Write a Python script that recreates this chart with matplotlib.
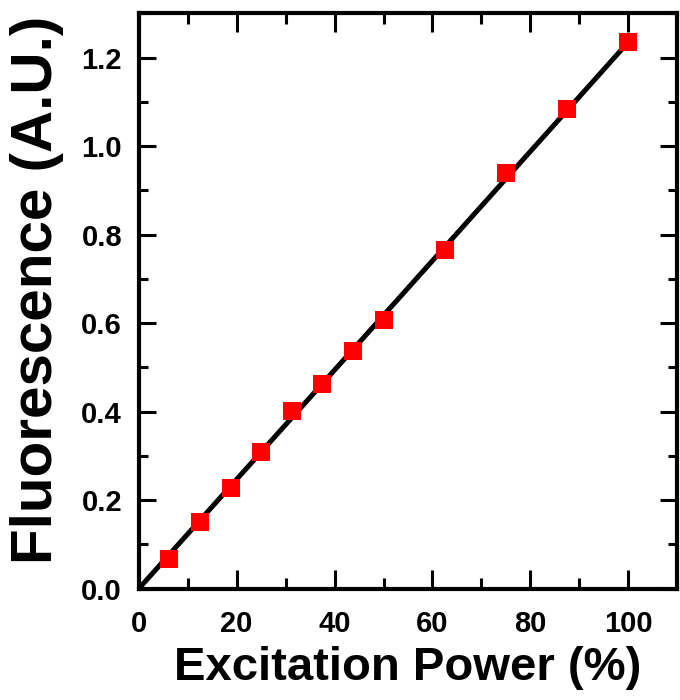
"""
Fluorescence vs excitation power, with linear fit.
"""

import matplotlib
matplotlib.use("Agg")
import matplotlib.pyplot as plt
import matplotlib.ticker as mticker

# measured points
power_pct = [6.25, 12.5, 18.75, 25, 31.25, 37.5, 43.75, 50, 62.5, 75, 87.5, 100]
fluorescence = [0.068, 0.151, 0.228, 0.309, 0.402, 0.463, 0.537, 0.607,
                0.765, 0.939, 1.083, 1.235]

# linear fit line end points
fit_x = [0, 100]
fit_y = [0.0, 1.235]

FONT = ["Liberation Sans", "DejaVu Sans"]
DPI = 100


def main():
    plt.rcParams["font.family"] = FONT
    plt.rcParams["font.weight"] = "bold"

    fig = plt.figure(figsize=(6.8, 7.0), dpi=DPI)
    ax = fig.add_axes([0.204, 0.159, 0.792, 0.822])

    ax.plot(fit_x, fit_y, color="black", linewidth=3.6, zorder=2)
    ax.plot(power_pct, fluorescence, linestyle="none", marker="s",
            markersize=13.5, color="#FF0000", markeredgewidth=0, zorder=3)

    ax.set_xlim(0, 110)
    ax.set_ylim(0, 1.3)
    ax.xaxis.set_major_locator(mticker.MultipleLocator(20))
    ax.xaxis.set_minor_locator(mticker.MultipleLocator(10))
    ax.yaxis.set_major_locator(mticker.MultipleLocator(0.2))
    ax.yaxis.set_minor_locator(mticker.MultipleLocator(0.1))
    ax.yaxis.set_major_formatter(mticker.FormatStrFormatter("%.1f"))

    ax.tick_params(which="both", direction="in", top=True, right=True,
                   width=2.2, labelsize=21)
    ax.tick_params(axis="x", which="major", length=14, pad=15)
    ax.tick_params(axis="x", which="minor", length=8)
    ax.tick_params(axis="y", which="major", length=12, pad=12)
    ax.tick_params(axis="y", which="minor", length=6.5)
    for lab in ax.get_xticklabels() + ax.get_yticklabels():
        lab.set_fontweight("bold")

    for spine in ax.spines.values():
        spine.set_linewidth(3)

    ax.set_xlabel("Excitation Power (%)", fontsize=34, fontweight="bold", labelpad=6)
    ax.set_ylabel("Fluorescence (A.U.)", fontsize=42, fontweight="bold")
    ax.yaxis.set_label_coords(-0.138, 0.52)

    fig.savefig("out.png", dpi=DPI)
    plt.close(fig)


if __name__ == "__main__":
    main()
